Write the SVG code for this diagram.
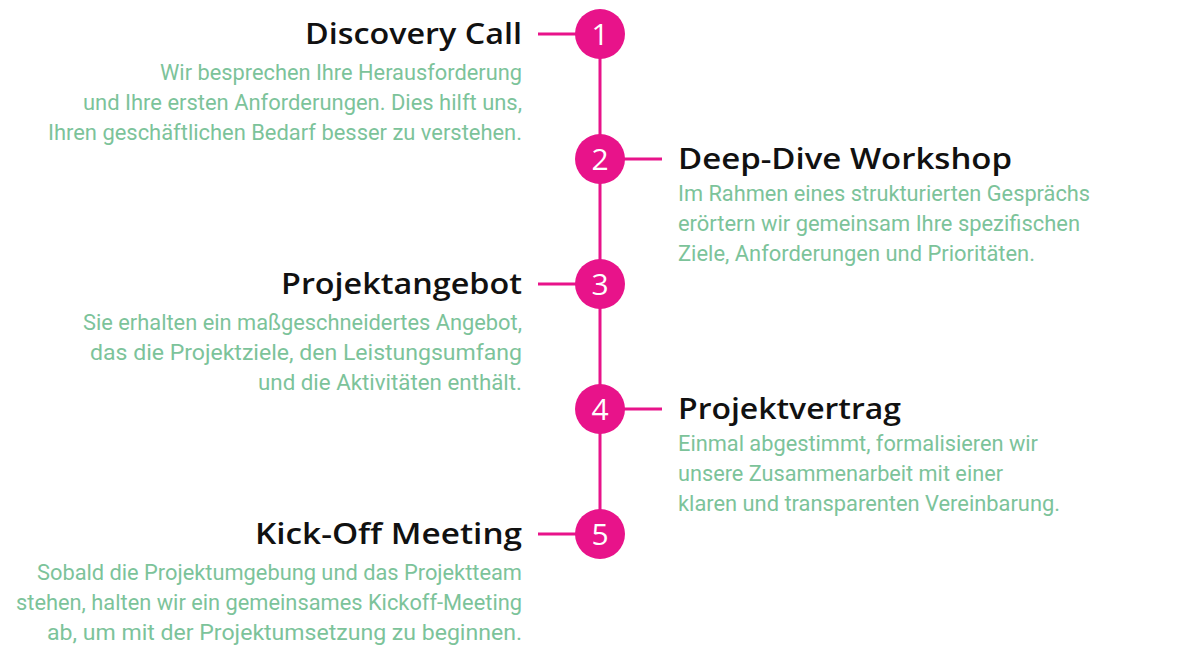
<svg xmlns="http://www.w3.org/2000/svg" width="1200" height="660" viewBox="0 0 1200 660">
<style>
.t{font-family:"Open Sans","Liberation Sans",sans-serif;font-size:28px;fill:#111;font-weight:600}
.d{font-family:Roboto,"Liberation Sans",sans-serif;font-size:21.5px;fill:#7cc39a}
.l{text-anchor:end}
.c{fill:#e8138a}
.n{font-family:"Open Sans","Liberation Sans",sans-serif;font-size:30px;fill:#fff;text-anchor:middle}
.ln{stroke:#e8138a;stroke-width:3;fill:none}
</style>
<rect width="1200" height="660" fill="#fff"/>
<g id="connectors">
<path class="ln" d="M600 34V534M538 34H600M600 159H662M538 284H600M600 409H662M538 534H600"/>
</g>
<g id="n1"><circle class="c" cx="600" cy="34" r="25"/><text class="n" x="600" y="45">1</text>
<text class="t l" x="522" y="44" textLength="217" lengthAdjust="spacingAndGlyphs">Discovery Call</text>
<text class="d l" x="522" y="80" textLength="362" lengthAdjust="spacingAndGlyphs">Wir besprechen Ihre Herausforderung</text>
<text class="d l" x="522" y="110" textLength="439" lengthAdjust="spacingAndGlyphs">und Ihre ersten Anforderungen. Dies hilft uns,</text>
<text class="d l" x="522" y="140" textLength="474" lengthAdjust="spacingAndGlyphs">Ihren geschäftlichen Bedarf besser zu verstehen.</text></g>
<g id="n2"><circle class="c" cx="600" cy="159" r="25"/><text class="n" x="600" y="170">2</text>
<text class="t" x="678" y="169" textLength="334" lengthAdjust="spacingAndGlyphs">Deep-Dive Workshop</text>
<text class="d" x="678" y="201" textLength="412" lengthAdjust="spacingAndGlyphs">Im Rahmen eines strukturierten Gesprächs</text>
<text class="d" x="678" y="231" textLength="402" lengthAdjust="spacingAndGlyphs">erörtern wir gemeinsam Ihre spezifischen</text>
<text class="d" x="678" y="261" textLength="357" lengthAdjust="spacingAndGlyphs">Ziele, Anforderungen und Prioritäten.</text></g>
<g id="n3"><circle class="c" cx="600" cy="284" r="25"/><text class="n" x="600" y="295">3</text>
<text class="t l" x="522" y="294" textLength="241" lengthAdjust="spacingAndGlyphs">Projektangebot</text>
<text class="d l" x="522" y="330" textLength="439" lengthAdjust="spacingAndGlyphs">Sie erhalten ein maßgeschneidertes Angebot,</text>
<text class="d l" x="522" y="360" textLength="432" lengthAdjust="spacingAndGlyphs">das die Projektziele, den Leistungsumfang</text>
<text class="d l" x="522" y="390" textLength="264" lengthAdjust="spacingAndGlyphs">und die Aktivitäten enthält.</text></g>
<g id="n4"><circle class="c" cx="600" cy="409" r="25"/><text class="n" x="600" y="420">4</text>
<text class="t" x="678" y="419" textLength="223" lengthAdjust="spacingAndGlyphs">Projektvertrag</text>
<text class="d" x="678" y="451" textLength="360" lengthAdjust="spacingAndGlyphs">Einmal abgestimmt, formalisieren wir</text>
<text class="d" x="678" y="481" textLength="325" lengthAdjust="spacingAndGlyphs">unsere Zusammenarbeit mit einer</text>
<text class="d" x="678" y="511" textLength="382" lengthAdjust="spacingAndGlyphs">klaren und transparenten Vereinbarung.</text></g>
<g id="n5"><circle class="c" cx="600" cy="534" r="25"/><text class="n" x="600" y="545">5</text>
<text class="t l" x="522" y="544" textLength="267" lengthAdjust="spacingAndGlyphs">Kick-Off Meeting</text>
<text class="d l" x="522" y="580" textLength="485" lengthAdjust="spacingAndGlyphs">Sobald die Projektumgebung und das Projektteam</text>
<text class="d l" x="522" y="610" textLength="506" lengthAdjust="spacingAndGlyphs">stehen, halten wir ein gemeinsames Kickoff-Meeting</text>
<text class="d l" x="522" y="640" textLength="475" lengthAdjust="spacingAndGlyphs">ab, um mit der Projektumsetzung zu beginnen.</text></g>
</svg>
